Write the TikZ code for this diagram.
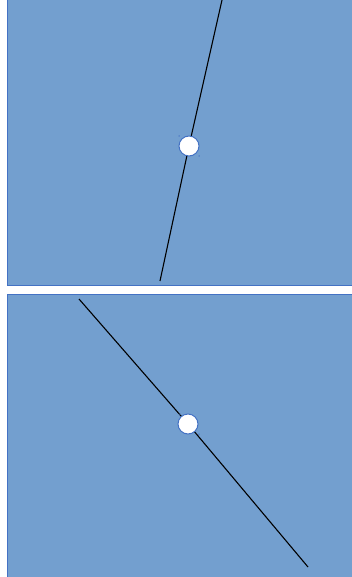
\documentclass[tikz,border=0pt]{standalone}
\usepackage{tikz}
\definecolor{panelblue}{RGB}{115,159,207}
\definecolor{edgeblue}{RGB}{68,114,196}
\usetikzlibrary{positioning}

\begin{document}
\begin{tikzpicture}[x=1pt,y=-1pt,
    panel/.style={fill=panelblue,draw=edgeblue,line width=0.8pt},
    rod/.style={black,line width=1.1pt},
    hub/.style={circle,fill=white,draw=edgeblue,line width=1pt,minimum size=20pt,inner sep=0pt},
    handle/.style={circle,fill=edgeblue,inner sep=0pt,minimum size=1.5pt}]
  \useasboundingbox (0,0) rectangle (352,577);
  % two panels
  \fill[white] (0,0) rectangle (352,577);
  \draw[panel] (7,-2) rectangle (354,285);
  \draw[panel] (7,294) rectangle (354,579);
  % top panel: steep rod
  \coordinate (top1) at (222,0);
  \coordinate (mid1) at (189,146);
  \coordinate (bot1) at (160,281);
  \draw[rod] (top1) -- (mid1) -- (bot1);
  \node[hub] (hub1) at (mid1) {};
  \node[handle] (hA1) at (179,136) {};
  \node[handle] (hB1) at (199,156) {};
  % bottom panel: slanted rod
  \coordinate (top2) at (79,299);
  \coordinate (mid2) at (188,424);
  \coordinate (bot2) at (308,567);
  \draw[rod] (top2) -- (mid2) -- (bot2);
  \node[hub] (hub2) at (mid2) {};
  \node[handle] (hA2) at (180,414) {};
  \node[handle] (hB2) at (199,434) {};
\end{tikzpicture}
\end{document}
